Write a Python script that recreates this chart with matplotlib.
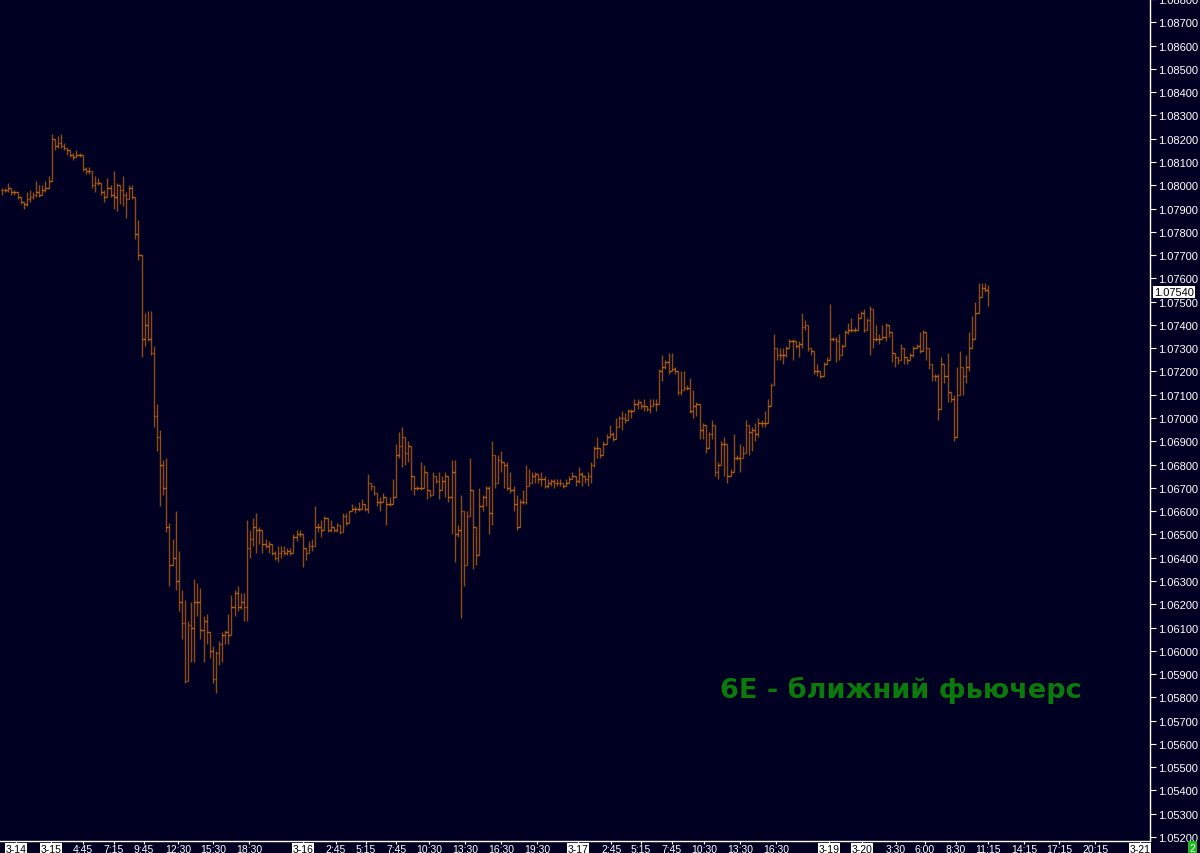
import numpy as np
import matplotlib
matplotlib.use("Agg")
import matplotlib.pyplot as plt

plt.rcParams['font.family'] = ['Liberation Sans', 'DejaVu Sans']

# 6E (EUR futures), 15-minute bars
close = [
    1.0798, 1.0798, 1.0799, 1.0797, 1.0797, 1.0795, 1.0793, 1.0792, 1.0794, 1.0795,
    1.0796, 1.0797, 1.0796, 1.0798, 1.0799, 1.0802, 1.0820, 1.0817, 1.0818, 1.0817,
    1.0816, 1.0815, 1.0813, 1.0812, 1.0813, 1.0813, 1.0807, 1.0806, 1.0806, 1.0800,
    1.0801, 1.0801, 1.0797, 1.0795, 1.0799, 1.0796, 1.0795, 1.0800, 1.0798, 1.0796,
    1.0794, 1.0799, 1.0795, 1.0779, 1.0770, 1.0734, 1.0740, 1.0734, 1.0728, 1.0701,
    1.0692, 1.0680, 1.0670, 1.0653, 1.0637, 1.0640, 1.0630, 1.0621, 1.0612, 1.0587,
    1.0611, 1.0610, 1.0621, 1.0621, 1.0609, 1.0613, 1.0608, 1.0600, 1.0588, 1.0599,
    1.0603, 1.0607, 1.0608, 1.0607, 1.0619, 1.0625, 1.0619, 1.0621, 1.0619,
    1.0644, 1.0648, 1.0653, 1.0652, 1.0652, 1.0646, 1.0645, 1.0646, 1.0642, 1.0640,
    1.0642, 1.0643, 1.0642, 1.0643, 1.0642, 1.0649, 1.0650, 1.0650, 1.0644, 1.0642,
    1.0645, 1.0645, 1.0653, 1.0653, 1.0652, 1.0657, 1.0652, 1.0653, 1.0652, 1.0654,
    1.0651, 1.0658, 1.0655, 1.0660, 1.0661, 1.0661, 1.0661, 1.0663, 1.0661, 1.0672,
    1.0671, 1.0668, 1.0664, 1.0664, 1.0666, 1.0663, 1.0663, 1.0666, 1.0684, 1.0688,
    1.0692, 1.0685, 1.0688, 1.0675, 1.0670, 1.0670, 1.0670, 1.0677, 1.0669, 1.0667,
    1.0675, 1.0673, 1.0669, 1.0673, 1.0675, 1.0666, 1.0677, 1.0650, 1.0652, 1.0660,
    1.0637, 1.0658, 1.0669, 1.0653, 1.0641, 1.0662, 1.0666, 1.0670, 1.0659, 1.0684,
    1.0672, 1.0682,
    1.0681, 1.0680, 1.0670, 1.0669, 1.0663, 1.0653, 1.0664, 1.0664, 1.0671, 1.0672,
    1.0675, 1.0676, 1.0674, 1.0674, 1.0671, 1.0672, 1.0673, 1.0672, 1.0672, 1.0672,
    1.0671, 1.0672, 1.0674, 1.0675, 1.0673, 1.0676, 1.0675, 1.0674, 1.0675, 1.0680,
    1.0687, 1.0687, 1.0684, 1.0689, 1.0692, 1.0693, 1.0691, 1.0696, 1.0700, 1.0700,
    1.0699, 1.0703, 1.0703, 1.0706, 1.0707, 1.0705, 1.0705, 1.0704, 1.0705, 1.0706,
    1.0706, 1.0720, 1.0722, 1.0724, 1.0720, 1.0721, 1.0720, 1.0711, 1.0712, 1.0713,
    1.0713, 1.0703, 1.0705, 1.0706, 1.0695, 1.0697, 1.0687, 1.0693, 1.0697, 1.0677,
    1.0680, 1.0689, 1.0689, 1.0675, 1.0677, 1.0683, 1.0683, 1.0683, 1.0685, 1.0697,
    1.0694, 1.0695, 1.0693, 1.0698, 1.0698, 1.0698, 1.0705, 1.0714, 1.0730, 1.0727,
    1.0727, 1.0727, 1.0730, 1.0733, 1.0733, 1.0731, 1.0732, 1.0739, 1.0740, 1.0730,
    1.0729, 1.0720, 1.0720, 1.0718, 1.0723, 1.0725, 1.0734, 1.0734, 1.0733, 1.0727,
    1.0731, 1.0737, 1.0738, 1.0738, 1.0738, 1.0743, 1.0745, 1.0738, 1.0742, 1.0747,
    1.0734, 1.0734, 1.0734, 1.0735, 1.0740, 1.0737, 1.0728, 1.0726, 1.0725, 1.0730,
    1.0726, 1.0725, 1.0727, 1.0730, 1.0731, 1.0729, 1.0737, 1.0730, 1.0723, 1.0718,
    1.0718, 1.0704, 1.0723, 1.0718, 1.0711, 1.0708, 1.0692, 1.0710, 1.0722, 1.0718,
    1.0722, 1.0730, 1.0734, 1.0745, 1.0752, 1.0756, 1.0755, 1.0754,
]

high = [
    1.0799, 1.0799, 1.0801, 1.0799, 1.0798, 1.0797, 1.0795, 1.0793, 1.0797, 1.0798,
    1.0797, 1.0802, 1.0800, 1.0800, 1.0802, 1.0804, 1.0822, 1.0819, 1.0821, 1.0822,
    1.0818, 1.0816, 1.0815, 1.0814, 1.0815, 1.0814, 1.0813, 1.0808, 1.0808, 1.0806,
    1.0804, 1.0803, 1.0801, 1.0798, 1.0803, 1.0800, 1.0806, 1.0801, 1.0800, 1.0804,
    1.0797, 1.0800, 1.0800, 1.0794, 1.0785, 1.0770, 1.0745, 1.0746, 1.0746, 1.0731,
    1.0706, 1.0695, 1.0682, 1.0683, 1.0655, 1.0648, 1.0660, 1.0643, 1.0626, 1.0622,
    1.0613, 1.0621, 1.0631, 1.0629, 1.0627, 1.0615, 1.0616, 1.0608, 1.0602, 1.0600,
    1.0604, 1.0608, 1.0609, 1.0616, 1.0624, 1.0626, 1.0628, 1.0625, 1.0625,
    1.0656, 1.0652, 1.0657, 1.0659, 1.0653, 1.0647, 1.0648, 1.0647, 1.0646, 1.0643,
    1.0645, 1.0645, 1.0645, 1.0644, 1.0644, 1.0650, 1.0652, 1.0652, 1.0650, 1.0644,
    1.0647, 1.0648, 1.0662, 1.0655, 1.0656, 1.0658, 1.0656, 1.0656, 1.0653, 1.0655,
    1.0654, 1.0659, 1.0659, 1.0660, 1.0663, 1.0662, 1.0664, 1.0665, 1.0662, 1.0676,
    1.0672, 1.0671, 1.0665, 1.0666, 1.0668, 1.0665, 1.0666, 1.0674, 1.0689, 1.0694,
    1.0696, 1.0687, 1.0690, 1.0680, 1.0672, 1.0671, 1.0681, 1.0680, 1.0671, 1.0668,
    1.0677, 1.0675, 1.0677, 1.0675, 1.0677, 1.0667, 1.0682, 1.0682, 1.0654, 1.0667,
    1.0638, 1.0660, 1.0683, 1.0669, 1.0643, 1.0670, 1.0667, 1.0671, 1.0671, 1.0690,
    1.0684, 1.0684,
    1.0686, 1.0681, 1.0681, 1.0677, 1.0671, 1.0667, 1.0665, 1.0669, 1.0680, 1.0678,
    1.0677, 1.0677, 1.0676, 1.0677, 1.0675, 1.0674, 1.0674, 1.0674, 1.0674, 1.0674,
    1.0672, 1.0674, 1.0675, 1.0677, 1.0675, 1.0679, 1.0677, 1.0675, 1.0677, 1.0681,
    1.0688, 1.0692, 1.0685, 1.0690, 1.0693, 1.0697, 1.0694, 1.0700, 1.0701, 1.0703,
    1.0702, 1.0704, 1.0704, 1.0708, 1.0708, 1.0707, 1.0708, 1.0705, 1.0708, 1.0708,
    1.0708, 1.0721, 1.0727, 1.0725, 1.0728, 1.0728, 1.0722, 1.0720, 1.0720, 1.0720,
    1.0714, 1.0717, 1.0712, 1.0707, 1.0696, 1.0698, 1.0690, 1.0694, 1.0699, 1.0685,
    1.0681, 1.0690, 1.0692, 1.0676, 1.0678, 1.0693, 1.0684, 1.0689, 1.0688, 1.0699,
    1.0697, 1.0696, 1.0698, 1.0700, 1.0699, 1.0703, 1.0708, 1.0715, 1.0736, 1.0729,
    1.0730, 1.0730, 1.0731, 1.0734, 1.0734, 1.0733, 1.0733, 1.0745, 1.0742, 1.0740,
    1.0730, 1.0728, 1.0723, 1.0719, 1.0724, 1.0726, 1.0749, 1.0735, 1.0735, 1.0736,
    1.0732, 1.0738, 1.0741, 1.0743, 1.0739, 1.0745, 1.0746, 1.0747, 1.0743, 1.0748,
    1.0735, 1.0740, 1.0736, 1.0740, 1.0741, 1.0738, 1.0731, 1.0727, 1.0726, 1.0732,
    1.0730, 1.0725, 1.0728, 1.0731, 1.0732, 1.0737, 1.0738, 1.0731, 1.0724, 1.0723,
    1.0719, 1.0719, 1.0726, 1.0720, 1.0728, 1.0710, 1.0710, 1.0722, 1.0729, 1.0719,
    1.0727, 1.0737, 1.0744, 1.0750, 1.0758, 1.0758, 1.0758, 1.0757,
]

low = [
    1.0796, 1.0797, 1.0797, 1.0796, 1.0796, 1.0794, 1.0792, 1.0790, 1.0791, 1.0793,
    1.0794, 1.0795, 1.0795, 1.0796, 1.0797, 1.0799, 1.0802, 1.0815, 1.0816, 1.0816,
    1.0815, 1.0813, 1.0812, 1.0811, 1.0812, 1.0812, 1.0806, 1.0805, 1.0805, 1.0799,
    1.0797, 1.0800, 1.0796, 1.0793, 1.0795, 1.0795, 1.0790, 1.0789, 1.0792, 1.0791,
    1.0786, 1.0794, 1.0794, 1.0777, 1.0768, 1.0726, 1.0731, 1.0733, 1.0727, 1.0696,
    1.0686, 1.0662, 1.0667, 1.0651, 1.0628, 1.0637, 1.0626, 1.0617, 1.0605, 1.0586,
    1.0587, 1.0595, 1.0595, 1.0615, 1.0605, 1.0595, 1.0603, 1.0597, 1.0586, 1.0582,
    1.0594, 1.0595, 1.0603, 1.0603, 1.0607, 1.0615, 1.0617, 1.0618, 1.0613,
    1.0613, 1.0640, 1.0645, 1.0642, 1.0646, 1.0642, 1.0644, 1.0642, 1.0641, 1.0639,
    1.0638, 1.0640, 1.0641, 1.0641, 1.0641, 1.0643, 1.0647, 1.0649, 1.0636, 1.0639,
    1.0643, 1.0643, 1.0651, 1.0651, 1.0649, 1.0652, 1.0651, 1.0651, 1.0651, 1.0651,
    1.0650, 1.0655, 1.0654, 1.0657, 1.0660, 1.0659, 1.0660, 1.0662, 1.0660, 1.0659,
    1.0669, 1.0667, 1.0662, 1.0660, 1.0665, 1.0654, 1.0662, 1.0665, 1.0674, 1.0683,
    1.0679, 1.0680, 1.0681, 1.0669, 1.0667, 1.0669, 1.0669, 1.0675, 1.0665, 1.0666,
    1.0672, 1.0672, 1.0665, 1.0672, 1.0666, 1.0664, 1.0650, 1.0638, 1.0649, 1.0614,
    1.0628, 1.0652, 1.0664, 1.0635, 1.0637, 1.0646, 1.0660, 1.0662, 1.0650, 1.0654,
    1.0670, 1.0672,
    1.0677, 1.0670, 1.0669, 1.0668, 1.0660, 1.0652, 1.0653, 1.0663, 1.0663, 1.0671,
    1.0674, 1.0672, 1.0672, 1.0671, 1.0670, 1.0670, 1.0671, 1.0670, 1.0671, 1.0671,
    1.0670, 1.0671, 1.0672, 1.0674, 1.0671, 1.0672, 1.0671, 1.0672, 1.0671, 1.0672,
    1.0679, 1.0683, 1.0683, 1.0686, 1.0690, 1.0692, 1.0690, 1.0695, 1.0696, 1.0695,
    1.0698, 1.0702, 1.0700, 1.0705, 1.0704, 1.0704, 1.0703, 1.0703, 1.0702, 1.0705,
    1.0703, 1.0706, 1.0716, 1.0721, 1.0719, 1.0720, 1.0719, 1.0710, 1.0710, 1.0712,
    1.0712, 1.0702, 1.0700, 1.0701, 1.0691, 1.0691, 1.0685, 1.0690, 1.0691, 1.0675,
    1.0674, 1.0680, 1.0675, 1.0672, 1.0675, 1.0680, 1.0682, 1.0677, 1.0684, 1.0692,
    1.0684, 1.0686, 1.0690, 1.0692, 1.0696, 1.0696, 1.0702, 1.0705, 1.0714, 1.0725,
    1.0725, 1.0723, 1.0726, 1.0731, 1.0725, 1.0730, 1.0726, 1.0730, 1.0738, 1.0729,
    1.0727, 1.0719, 1.0718, 1.0717, 1.0718, 1.0723, 1.0733, 1.0733, 1.0724, 1.0725,
    1.0730, 1.0731, 1.0736, 1.0737, 1.0737, 1.0741, 1.0743, 1.0737, 1.0741, 1.0727,
    1.0730, 1.0733, 1.0732, 1.0734, 1.0733, 1.0735, 1.0724, 1.0722, 1.0723, 1.0725,
    1.0723, 1.0723, 1.0726, 1.0726, 1.0730, 1.0728, 1.0730, 1.0725, 1.0721, 1.0716,
    1.0716, 1.0699, 1.0716, 1.0715, 1.0707, 1.0707, 1.0690, 1.0709, 1.0721, 1.0710,
    1.0715, 1.0720, 1.0730, 1.0739, 1.0746, 1.0754, 1.0754, 1.0748,
]

# x-axis labels and the bar index they sit under
tick_pos = [4.5, 15.8, 26.1, 36.1, 45.8, 56.8, 68.1, 79.7, 97.1, 107.7, 117.4, 127.1,
            137.7, 149.4, 161.0, 172.6, 185.8, 196.5, 206.1, 216.1, 226.5, 238.1,
            249.7, 266.8, 277.4, 288.4, 297.7, 307.7, 318.1, 329.7, 341.0, 352.6, 367.1]
tick_lbl = ['3-14', '3-15', '4:45', '7:15', '9:45', '12:30', '15:30', '18:30',
            '3-16', '2:45', '5:15', '7:45', '10:30', '13:30', '16:30', '19:30',
            '3-17', '2:45', '5:15', '7:45', '10:30', '13:30', '16:30',
            '3-19', '3-20', '3:30', '6:00', '8:30', '11:15', '14:15', '17:15', '20:15', '3-21']

last_price = 1.07540
title = "6E - ближний фьючерс"

bg = '#000022'
bar_col = '#8a4c12'
tick_col = '#c46a10'

close = np.array(close)
high = np.array(high)
low = np.array(low)
opn = np.r_[close[0], close[:-1]]
high = np.maximum(high, np.maximum(opn, close))
low = np.minimum(low, np.minimum(opn, close))
x = np.arange(len(close))

fig = plt.figure(figsize=(12, 8.54), dpi=100, facecolor=bg)
ax = fig.add_axes([0, 12 / 854, 1150 / 1200, 842 / 854], facecolor=bg)

ax.vlines(x, low, high, color=bar_col, lw=1.0)
ax.hlines(opn, x - 0.45, x, color=tick_col, lw=1.0)
ax.hlines(close, x, x + 0.45, color=tick_col, lw=1.0)

ax.set_xlim(-0.65, 370.3)
ax.set_ylim(1.05183, 1.08800)

for s in ['left', 'top']:
    ax.spines[s].set_visible(False)
for s in ['right', 'bottom']:
    ax.spines[s].set_color('white')
    ax.spines[s].set_linewidth(1.0)

ax.yaxis.tick_right()
ax.set_yticks(np.arange(1.052, 1.0881, 0.001))
ax.yaxis.set_major_formatter(matplotlib.ticker.FormatStrFormatter('%.5f'))
ax.tick_params(axis='y', colors='white', labelcolor='white', labelsize=8, length=4, pad=2)

ax.set_xticks(tick_pos)
ax.set_xticklabels(tick_lbl)
ax.tick_params(axis='x', colors='white', labelcolor='white', labelsize=7.5, length=2, pad=0)
for lab in ax.get_xticklabels():
    if '-' in lab.get_text():
        lab.set_color('black')
        lab.set_bbox(dict(boxstyle='square,pad=0.08', fc='white', ec='none'))

# last price marker on the right axis
ax.annotate(f'{last_price:.5f}', xy=(1.0, last_price), xycoords=('axes fraction', 'data'),
            xytext=(3, 0), textcoords='offset points', ha='left', va='center',
            fontsize=8, color='black',
            bbox=dict(boxstyle='square,pad=0.1', fc='white', ec='none'))

ax.text(0.626, 0.18, title, transform=ax.transAxes, fontsize=19.5, fontweight='bold',
        color='#0a7a0a', family=['DejaVu Sans'], ha='left', va='center')

fig.text(1192 / 1200, 5 / 854, '2', fontsize=7.5, color='white', ha='center', va='center',
         bbox=dict(boxstyle='square,pad=0.15', fc='#1fb81f', ec='none'))

fig.savefig('out.png', dpi=100, facecolor=bg)
